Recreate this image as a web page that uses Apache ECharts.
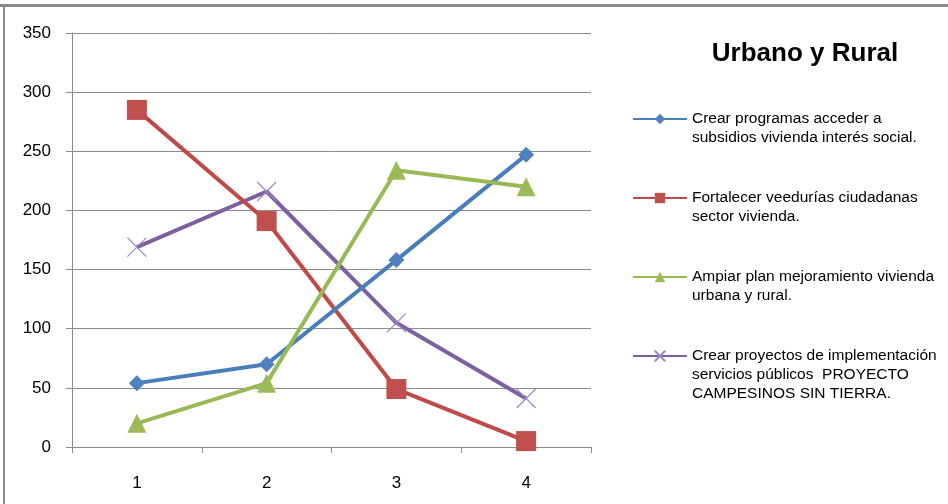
<!DOCTYPE html>
<html><head><meta charset="utf-8">
<script src="https://cdn.jsdelivr.net/npm/echarts@6/dist/echarts.min.js"></script>
<style>html,body{margin:0;padding:0;background:#fff}#c{width:948px;height:504px}</style>
</head><body><div id="c"></div>
<script>
const categories = ['1', '2', '3', '4'];
const seriesNames = [
  'Crear programas acceder a\nsubsidios vivienda interés social.',
  'Fortalecer veedurías ciudadanas\nsector vivienda.',
  'Ampiar plan mejoramiento vivienda\nurbana y rural.',
  'Crear proyectos de implementación\nservicios públicos  PROYECTO\nCAMPESINOS SIN TIERRA.'
];
const blueValues = [54, 70, 158, 247];
const redValues = [285, 191, 49, 5];
const greenValues = [20, 54, 234, 220];
const purpleValues = [169, 216, 105, 41];
const yTicks = [0, 50, 100, 150, 200, 250, 300, 350];
const titleText = 'Urbano y Rural';

const colors = ['#4a7ebb', '#be4b48', '#98b954', '#7d60a0'];
const sans = "'Liberation Sans', Arial, sans-serif";
const xPath = 'path://M0,0L10,10M10,0L0,10';

const chart = echarts.init(document.getElementById('c'), null, {renderer: 'canvas'});

function mkLegend(idx, top) {
  const name = seriesNames[idx];
  const nLines = name.split('\n').length;
  return {
    data: [name],
    orient: 'vertical',
    left: 632,
    top: top,
    padding: 0,
    itemWidth: 54,
    itemHeight: 13,
    selectedMode: false,
    formatter: function (n) {
      let pre = '';
      for (let i = 1; i < nLines; i++) pre += '\n';
      return pre + n;
    },
    textStyle: {fontFamily: sans, fontSize: 15.5, color: '#000', lineHeight: 19}
  };
}

function lineCenterTop(centerY, idx) {
  const nLines = seriesNames[idx].split('\n').length;
  const total = (2 * nLines - 1) * 19;
  return centerY - total / 2;
}

const option = {
  animation: false,
  backgroundColor: '#fff',
  title: {
    text: titleText,
    left: 800,
    top: 36,
    textAlign: 'center',
    textStyle: {fontFamily: sans, fontSize: 26, fontWeight: 'bold', color: '#000'}
  },
  legend: [
    mkLegend(0, lineCenterTop(119, 0)),
    mkLegend(1, lineCenterTop(198, 1)),
    mkLegend(2, lineCenterTop(277, 2)),
    mkLegend(3, lineCenterTop(356, 3))
  ],
  grid: {left: 72, right: 357, top: 33, bottom: 57, containLabel: false},
  xAxis: {
    type: 'category',
    data: categories,
    boundaryGap: true,
    axisLine: {lineStyle: {color: '#8c8c8c', width: 1}},
    axisTick: {show: true, length: 6, lineStyle: {color: '#8c8c8c'}},
    axisLabel: {fontFamily: sans, fontSize: 17, color: '#000', margin: 28}
  },
  yAxis: {
    type: 'value',
    min: yTicks[0],
    max: yTicks[yTicks.length - 1],
    interval: 50,
    axisLine: {show: true, lineStyle: {color: '#8c8c8c', width: 1}},
    axisTick: {show: true, length: 6, lineStyle: {color: '#8c8c8c'}},
    axisLabel: {fontFamily: sans, fontSize: 17, color: '#000', margin: 21},
    splitLine: {show: true, lineStyle: {color: '#8c8c8c', width: 1}}
  },
  series: [
    {name: seriesNames[0], type: 'line', data: blueValues, symbol: 'diamond', symbolSize: 16,
     lineStyle: {color: colors[0], width: 4}, itemStyle: {color: '#4f81bd'}, z: 4},
    {name: seriesNames[1], type: 'line', data: redValues, symbol: 'rect', symbolSize: 20,
     lineStyle: {color: colors[1], width: 4}, itemStyle: {color: '#c0504d'}, z: 3},
    {name: seriesNames[2], type: 'line', data: greenValues, symbol: 'triangle', symbolSize: 19,
     lineStyle: {color: colors[2], width: 4}, itemStyle: {color: '#9bbb59'}, z: 5},
    {name: seriesNames[3], type: 'line', data: purpleValues, symbol: xPath, symbolSize: 19,
     lineStyle: {color: colors[3], width: 4}, itemStyle: {color: 'rgba(0,0,0,0)', borderColor: '#9d88c0', borderWidth: 1.2}, z: 2}
  ],
  graphic: [
    {type: 'rect', shape: {x: 0, y: 4, width: 948, height: 3}, style: {fill: '#8a8a8a'}, silent: true},
    {type: 'rect', shape: {x: 3, y: 4, width: 2, height: 500}, style: {fill: '#8a8a8a'}, silent: true}
  ]
};
chart.setOption(option);
</script>
</body></html>
